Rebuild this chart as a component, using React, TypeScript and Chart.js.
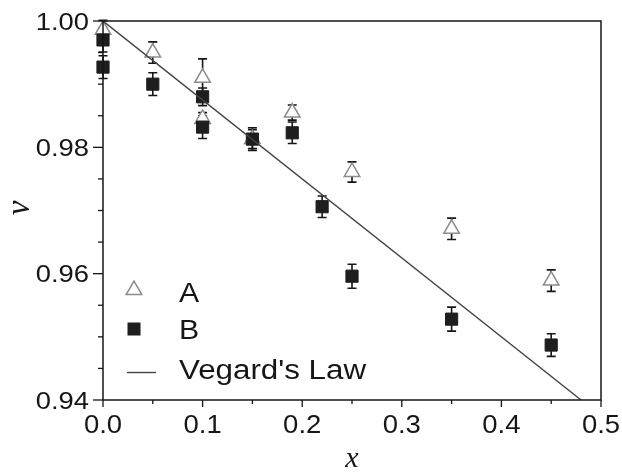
import React, { useEffect, useRef } from "react";
import { Chart, registerables } from "chart.js";

Chart.register(...registerables);

// Series A (open triangles)
const aX = [0, 0.05, 0.1, 0.1, 0.15, 0.19, 0.25, 0.35, 0.45];
const aV = [0.9986, 0.995, 0.991, 0.9845, 0.9813, 0.9855, 0.9761, 0.9671, 0.9589];
const aErr = [0.0015, 0.0017, 0.003, 0.001, 0.0015, 0.0012, 0.0016, 0.0017, 0.0017];

// Series B (filled squares)
const bX = [0, 0, 0.05, 0.1, 0.1, 0.15, 0.19, 0.22, 0.25, 0.35, 0.45];
const bV = [0.997, 0.9927, 0.99, 0.988, 0.9832, 0.9813, 0.9823, 0.9706, 0.9596, 0.9528, 0.9487];
const bErr = [0.0019, 0.0018, 0.0018, 0.0014, 0.0018, 0.0018, 0.0017, 0.0017, 0.0019, 0.0019, 0.0018];

// Vegard's law reference line
const vegX = [0, 0.48];
const vegV = [1.0, 0.94];

// Axis tick labels
const xTickLabels = ["0.0", "0.1", "0.2", "0.3", "0.4", "0.5"];
const yTickLabels = ["0.94", "0.96", "0.98", "1.00"];
const xMinorStep = 0.05;
const yMinorStep = 0.005;

const INK = "#161616";
const SANS = "'Liberation Sans', Arial, sans-serif";
const SERIF = "'Liberation Serif', 'Times New Roman', serif";

function stretchedText(
  ctx: CanvasRenderingContext2D,
  text: string,
  x: number,
  y: number,
  align: CanvasTextAlign,
  sx: number
) {
  ctx.save();
  ctx.translate(x, y);
  ctx.scale(sx, 1);
  ctx.textAlign = align;
  ctx.textBaseline = "alphabetic";
  ctx.fillText(text, 0, 0);
  ctx.restore();
}

const errorBars = {
  id: "errorBars",
  beforeDatasetsDraw(chart: any) {
    const ctx: CanvasRenderingContext2D = chart.ctx;
    const xs = chart.scales.x;
    const ys = chart.scales.y;
    ctx.save();
    ctx.strokeStyle = INK;
    ctx.lineWidth = 1.6;
    chart.data.datasets.forEach((ds: any) => {
      if (!ds.errors) return;
      ds.data.forEach((p: any, i: number) => {
        const e = ds.errors[i];
        const px = xs.getPixelForValue(p.x);
        const top = ys.getPixelForValue(p.y + e);
        const bot = ys.getPixelForValue(p.y - e);
        ctx.beginPath();
        ctx.moveTo(px, top);
        ctx.lineTo(px, bot);
        ctx.moveTo(px - 4.5, top);
        ctx.lineTo(px + 4.5, top);
        ctx.moveTo(px - 4.5, bot);
        ctx.lineTo(px + 4.5, bot);
        ctx.stroke();
      });
    });
    ctx.restore();
  },
};

const decorations = {
  id: "decorations",
  afterDraw(chart: any) {
    const ctx: CanvasRenderingContext2D = chart.ctx;
    const xs = chart.scales.x;
    const ys = chart.scales.y;
    const { left, right, top, bottom } = chart.chartArea;

    ctx.save();
    // frame
    ctx.strokeStyle = INK;
    ctx.lineWidth = 1.5;
    ctx.strokeRect(left, top, right - left, bottom - top);

    // y ticks
    ctx.lineWidth = 1.3;
    const yMin = ys.min;
    const yMax = ys.max;
    const nY = Math.round((yMax - yMin) / yMinorStep);
    for (let i = 0; i <= nY; i++) {
      const v = yMin + i * yMinorStep;
      const major = i % 4 === 0;
      const py = ys.getPixelForValue(v);
      ctx.beginPath();
      ctx.moveTo(left, py);
      ctx.lineTo(left - (major ? 10 : 5), py);
      ctx.stroke();
    }
    // x ticks
    const nX = Math.round((xs.max - xs.min) / xMinorStep);
    for (let i = 0; i <= nX; i++) {
      const v = xs.min + i * xMinorStep;
      const major = i % 2 === 0;
      const px = xs.getPixelForValue(v);
      ctx.beginPath();
      ctx.moveTo(px, bottom);
      ctx.lineTo(px, bottom + (major ? 7 : 4));
      ctx.stroke();
    }

    // tick labels
    ctx.fillStyle = INK;
    ctx.font = `24px ${SANS}`;
    yTickLabels.forEach((t) => {
      const py = ys.getPixelForValue(parseFloat(t));
      stretchedText(ctx, t, left - 14, py + 8.7, "right", 1.14);
    });
    ctx.font = `25px ${SANS}`;
    xTickLabels.forEach((t) => {
      const px = xs.getPixelForValue(parseFloat(t));
      stretchedText(ctx, t, px, bottom + 33, "center", 1.1);
    });

    // axis titles
    ctx.font = `italic 30px ${SERIF}`;
    ctx.textAlign = "center";
    ctx.fillText("x", 352, 467);
    ctx.save();
    ctx.translate(29, 208);
    ctx.rotate(-Math.PI / 2);
    ctx.font = `italic 33px ${SERIF}`;
    ctx.fillText("v", 0, 0);
    ctx.restore();

    // legend
    const lx = 134;
    // triangle
    ctx.beginPath();
    const r = 9;
    ctx.moveTo(lx, 290 - r);
    ctx.lineTo(lx + r * Math.sin((2 * Math.PI) / 3), 290 + r / 2);
    ctx.lineTo(lx - r * Math.sin((2 * Math.PI) / 3), 290 + r / 2);
    ctx.closePath();
    ctx.fillStyle = "#ffffff";
    ctx.fill();
    ctx.strokeStyle = "#8c8c8c";
    ctx.lineWidth = 1.5;
    ctx.stroke();
    // square
    ctx.fillStyle = "#1e1e1e";
    ctx.fillRect(lx - 6.5, 329 - 6.5, 13, 13);
    // line
    ctx.strokeStyle = "#444444";
    ctx.lineWidth = 1.4;
    ctx.beginPath();
    ctx.moveTo(127, 372.5);
    ctx.lineTo(156, 372.5);
    ctx.stroke();

    ctx.fillStyle = INK;
    ctx.font = `27px ${SANS}`;
    stretchedText(ctx, "A", 179, 301.5, "left", 1.12);
    stretchedText(ctx, "B", 179, 339, "left", 1.12);
    stretchedText(ctx, "Vegard's Law", 179, 379, "left", 1.16);
    ctx.restore();
  },
};

export default function App() {
  const canvasRef = useRef<HTMLCanvasElement | null>(null);

  useEffect(() => {
    const canvas = canvasRef.current;
    if (!canvas) return;
    const chart = new Chart(canvas, {
      type: "scatter",
      data: {
        datasets: [
          {
            label: "A",
            data: aX.map((x, i) => ({ x, y: aV[i] })),
            errors: aErr,
            pointStyle: "triangle",
            pointRadius: 9,
            pointBackgroundColor: "#ffffff",
            pointBorderColor: "#8c8c8c",
            pointBorderWidth: 1.5,
            clip: false,
            order: 3,
          } as any,
          {
            label: "B",
            data: bX.map((x, i) => ({ x, y: bV[i] })),
            errors: bErr,
            pointStyle: "rect",
            pointRadius: 8.6,
            pointBackgroundColor: "#1e1e1e",
            pointBorderColor: "#1e1e1e",
            pointBorderWidth: 1,
            clip: false,
            order: 2,
          } as any,
          {
            label: "Vegard's Law",
            type: "line",
            data: vegX.map((x, i) => ({ x, y: vegV[i] })),
            borderColor: "#444444",
            borderWidth: 1.4,
            pointRadius: 0,
            fill: false,
            order: 1,
          } as any,
        ],
      },
      options: {
        animation: false,
        responsive: false,
        events: [],
        layout: { padding: { top: 21, right: 21, left: 0, bottom: 0 } },
        plugins: {
          legend: { display: false },
          tooltip: { enabled: false },
        },
        scales: {
          x: {
            type: "linear",
            min: 0,
            max: 0.5,
            grid: { display: false, drawTicks: false },
            border: { display: false },
            ticks: { display: false },
            afterFit: (s: any) => {
              s.height = 74;
            },
          },
          y: {
            type: "linear",
            min: 0.94,
            max: 1.0,
            grid: { display: false, drawTicks: false },
            border: { display: false },
            ticks: { display: false },
            afterFit: (s: any) => {
              s.width = 103;
            },
          },
        },
      },
      plugins: [errorBars, decorations],
    });
    return () => chart.destroy();
  }, []);

  return (
    <div style={{ position: "absolute", left: 0, top: 0, width: 622, height: 474, background: "#ffffff" }}>
      <canvas ref={canvasRef} width={622} height={474} />
    </div>
  );
}
